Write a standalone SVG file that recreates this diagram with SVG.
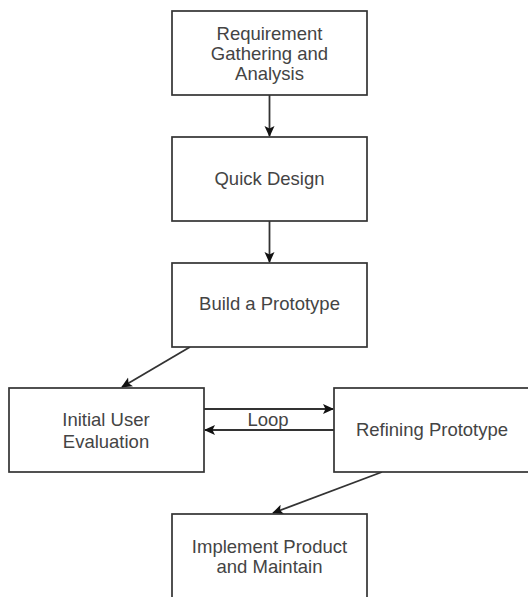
<svg xmlns="http://www.w3.org/2000/svg" width="528" height="597" viewBox="0 0 528 597">
<defs>
<style>
.box{fill:#fff;stroke:#333;stroke-width:1.7}
.t{font-family:"Liberation Sans",Arial,sans-serif;font-size:18.5px;fill:#444;text-anchor:middle}
.c{stroke:#333;stroke-width:1.8;fill:none;marker-end:url(#ah)}
</style>
<marker id="ah" markerWidth="12" markerHeight="12" refX="10" refY="5.5" orient="auto" markerUnits="userSpaceOnUse">
<path d="M0,0.5 L11,5.5 L0,10.5 L2.5,5.5 Z" fill="#111"/>
</marker>
</defs>
<rect width="528" height="597" fill="#fff"/>
<g id="connectors">
<line class="c" x1="269.5" y1="95" x2="269.5" y2="136"/>
<line class="c" x1="269.5" y1="221" x2="269.5" y2="262"/>
<line class="c" x1="190" y1="347" x2="122" y2="387"/>
<line class="c" x1="204" y1="409" x2="333" y2="409"/>
<line class="c" x1="334" y1="430" x2="205" y2="430"/>
<line class="c" x1="382" y1="472" x2="273" y2="513"/>
<text class="t" x="268" y="426">Loop</text>
</g>
<g id="n1">
<rect class="box" x="172" y="11" width="195" height="84"/>
<text class="t" x="269.5" y="39.5">Requirement</text>
<text class="t" x="269.5" y="59.5">Gathering and</text>
<text class="t" x="269.5" y="79.5">Analysis</text>
</g>
<g id="n2">
<rect class="box" x="172" y="137" width="195" height="84"/>
<text class="t" x="269.5" y="184.5">Quick Design</text>
</g>
<g id="n3">
<rect class="box" x="172" y="263" width="195" height="84"/>
<text class="t" x="269.5" y="309.5">Build a Prototype</text>
</g>
<g id="n4">
<rect class="box" x="9" y="388" width="195" height="84"/>
<text class="t" x="106" y="426">Initial User</text>
<text class="t" x="106" y="448">Evaluation</text>
</g>
<g id="n5">
<rect class="box" x="334" y="388" width="195" height="84"/>
<text class="t" x="432" y="435.5">Refining Prototype</text>
</g>
<g id="n6">
<rect class="box" x="172" y="514" width="195" height="90"/>
<text class="t" x="269.5" y="553">Implement Product</text>
<text class="t" x="269.5" y="573">and Maintain</text>
</g>
</svg>
